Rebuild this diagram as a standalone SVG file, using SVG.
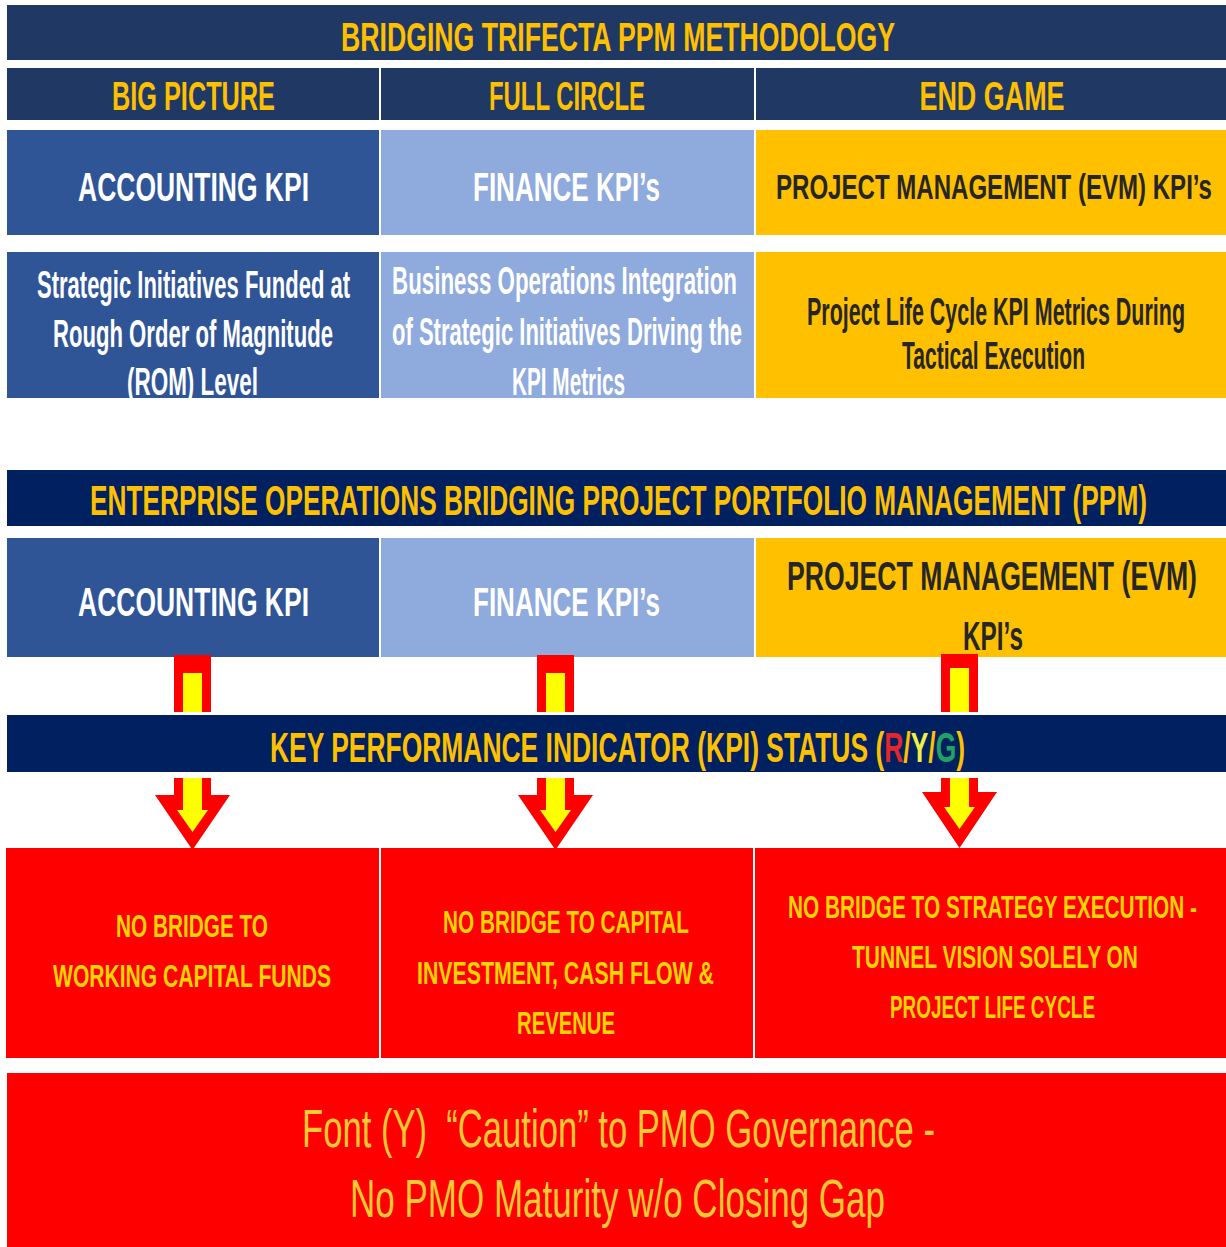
<svg xmlns="http://www.w3.org/2000/svg" width="1226" height="1247" viewBox="0 0 1226 1247">
<style>
.t{font-family:"Liberation Sans Narrow","Liberation Sans",Arial,sans-serif;text-anchor:middle}
.b{font-weight:bold}
.gold{fill:#FFC000}
.wh{fill:#FFFFFF}
.dk{fill:#262626}
.ry{fill:#FFD400;font-weight:bold}
.navy{fill:#1F3864}
.dnavy{fill:#002060}
.acc{fill:#2F5597}
.fin{fill:#8FAADC}
.pm{fill:#FFC000}
.red{fill:#FF0000}
.ao{fill:#FF0000}
.ai{fill:#FFFF00}
</style>
<rect x="0" y="0" width="1226" height="1247" fill="#FFFFFF"/>

<g id="title">
<rect class="navy" x="7" y="5" width="1219" height="55"/>
<text class="t b gold" x="618" y="51" font-size="40" textLength="554" lengthAdjust="spacingAndGlyphs">BRIDGING TRIFECTA PPM METHODOLOGY</text>
</g>

<g id="big-picture">
<rect class="navy" x="7" y="68" width="372" height="52"/>
<text class="t b gold" x="193.5" y="110" font-size="41" textLength="163" lengthAdjust="spacingAndGlyphs">BIG PICTURE</text>
</g>
<g id="full-circle">
<rect class="navy" x="381" y="68" width="373" height="52"/>
<text class="t b gold" x="567" y="110" font-size="41" textLength="156" lengthAdjust="spacingAndGlyphs">FULL CIRCLE</text>
</g>
<g id="end-game">
<rect class="navy" x="756" y="68" width="470" height="52"/>
<text class="t b gold" x="992" y="110" font-size="41" textLength="145" lengthAdjust="spacingAndGlyphs">END GAME</text>
</g>

<g id="accounting-kpi-1">
<rect class="acc" x="7" y="130" width="372" height="105"/>
<text class="t b wh" x="193.5" y="201" font-size="41" textLength="231" lengthAdjust="spacingAndGlyphs">ACCOUNTING KPI</text>
</g>
<g id="finance-kpi-1">
<rect class="fin" x="381" y="130" width="373" height="105"/>
<text class="t b wh" x="566.5" y="201" font-size="41" textLength="187" lengthAdjust="spacingAndGlyphs">FINANCE KPI’s</text>
</g>
<g id="pm-kpi-1">
<rect class="pm" x="756" y="130" width="470" height="105"/>
<text class="t b dk" x="994" y="199" font-size="35" textLength="436" lengthAdjust="spacingAndGlyphs">PROJECT MANAGEMENT (EVM) KPI’s</text>
</g>

<g id="accounting-desc">
<rect class="acc" x="7" y="252" width="372" height="146"/>
<text class="t b wh" x="193.5" y="298" font-size="39" textLength="313" lengthAdjust="spacingAndGlyphs">Strategic Initiatives Funded at</text>
<text class="t b wh" x="193" y="347" font-size="39" textLength="280" lengthAdjust="spacingAndGlyphs">Rough Order of Magnitude</text>
<text class="t b wh" x="192.5" y="395" font-size="39" textLength="131" lengthAdjust="spacingAndGlyphs">(ROM) Level</text>
</g>
<g id="finance-desc">
<rect class="fin" x="381" y="252" width="373" height="146"/>
<text class="t b wh" x="564.5" y="294" font-size="39" textLength="345" lengthAdjust="spacingAndGlyphs">Business Operations Integration</text>
<text class="t b wh" x="567" y="345" font-size="39" textLength="350" lengthAdjust="spacingAndGlyphs">of Strategic Initiatives Driving the</text>
<text class="t b wh" x="568.5" y="395" font-size="39" textLength="113" lengthAdjust="spacingAndGlyphs">KPI Metrics</text>
</g>
<g id="pm-desc">
<rect class="pm" x="756" y="252" width="470" height="146"/>
<text class="t b dk" x="996" y="325" font-size="39" textLength="378" lengthAdjust="spacingAndGlyphs">Project Life Cycle KPI Metrics During</text>
<text class="t b dk" x="993.5" y="369" font-size="39" textLength="183" lengthAdjust="spacingAndGlyphs">Tactical Execution</text>
</g>

<g id="enterprise">
<rect class="dnavy" x="7" y="470" width="1219" height="56"/>
<text class="t b gold" x="618.5" y="515" font-size="42" textLength="1057" lengthAdjust="spacingAndGlyphs">ENTERPRISE OPERATIONS BRIDGING PROJECT PORTFOLIO MANAGEMENT (PPM)</text>
</g>

<g id="accounting-kpi-2">
<rect class="acc" x="7" y="538" width="372" height="119"/>
<text class="t b wh" x="193.5" y="616" font-size="41" textLength="231" lengthAdjust="spacingAndGlyphs">ACCOUNTING KPI</text>
</g>
<g id="finance-kpi-2">
<rect class="fin" x="381" y="538" width="373" height="119"/>
<text class="t b wh" x="566.5" y="616" font-size="41" textLength="187" lengthAdjust="spacingAndGlyphs">FINANCE KPI’s</text>
</g>
<g id="pm-kpi-2">
<rect class="pm" x="756" y="538" width="470" height="119"/>
<text class="t b dk" x="992" y="590" font-size="40" textLength="410" lengthAdjust="spacingAndGlyphs">PROJECT MANAGEMENT (EVM)</text>
<text class="t b dk" x="993" y="650" font-size="40" textLength="60" lengthAdjust="spacingAndGlyphs">KPI’s</text>
</g>

<g id="connectors">
<g id="arrow-accounting">
<polygon class="ao" points="174,655 211,655 211,795 230,795 192.5,850 155,795 174,795"/>
<polygon class="ai" points="183,673 202,673 202,810 208,810 192.5,832 177,810 183,810"/>
</g>
<g id="arrow-finance">
<polygon class="ao" points="537,655 574,655 574,795 593,795 555.5,850 518,795 537,795"/>
<polygon class="ai" points="546,673 565,673 565,810 571,810 555.5,832 540,810 546,810"/>
</g>
<g id="arrow-pm">
<polygon class="ao" points="941,654 978,654 978,792 997,792 959.5,848 922,792 941,792"/>
<polygon class="ai" points="950,668 969,668 969,807 975,807 959.5,829 944,807 950,807"/>
</g>
</g>

<g id="kpi-status">
<rect fill="#FFFFFF" x="0" y="712" width="1226" height="66"/>
<rect class="dnavy" x="7" y="715" width="1219" height="57"/>
<text class="t b gold" x="617.5" y="762" font-size="42" textLength="695" lengthAdjust="spacingAndGlyphs">KEY PERFORMANCE INDICATOR (KPI) STATUS (<tspan fill="#E3262B">R</tspan>/<tspan fill="#EEF04A">Y</tspan>/<tspan fill="#1FA463">G</tspan>)</text>
</g>

<g id="no-bridge-working-capital">
<rect class="red" x="6" y="848" width="373" height="210"/>
<text class="t ry" x="192" y="937" font-size="32" textLength="152" lengthAdjust="spacingAndGlyphs">NO BRIDGE TO</text>
<text class="t ry" x="192" y="987" font-size="32" textLength="278" lengthAdjust="spacingAndGlyphs">WORKING CAPITAL FUNDS</text>
</g>
<g id="no-bridge-capital">
<rect class="red" x="381" y="848" width="372" height="210"/>
<text class="t ry" x="566" y="933" font-size="32" textLength="246" lengthAdjust="spacingAndGlyphs">NO BRIDGE TO CAPITAL</text>
<text class="t ry" x="565.5" y="984" font-size="32" textLength="297" lengthAdjust="spacingAndGlyphs">INVESTMENT, CASH FLOW &amp;</text>
<text class="t ry" x="566" y="1034" font-size="32" textLength="98" lengthAdjust="spacingAndGlyphs">REVENUE</text>
</g>
<g id="no-bridge-strategy">
<rect class="red" x="755" y="848" width="471" height="210"/>
<text class="t ry" x="992.5" y="918" font-size="32" textLength="409" lengthAdjust="spacingAndGlyphs">NO BRIDGE TO STRATEGY EXECUTION -</text>
<text class="t ry" x="995" y="968" font-size="32" textLength="286" lengthAdjust="spacingAndGlyphs">TUNNEL VISION SOLELY ON</text>
<text class="t ry" x="992.5" y="1018" font-size="32" textLength="205" lengthAdjust="spacingAndGlyphs">PROJECT LIFE CYCLE</text>
</g>

<g id="caution">
<rect class="red" x="7" y="1073" width="1219" height="174"/>
<text class="t" fill="#FFC933" x="618.5" y="1147" font-size="53" textLength="633" lengthAdjust="spacingAndGlyphs">Font (Y)&#160; “Caution” to PMO Governance -</text>
<text class="t" fill="#FFC933" x="617.5" y="1217" font-size="53" textLength="535" lengthAdjust="spacingAndGlyphs">No PMO Maturity w/o Closing Gap</text>
</g>
</svg>
